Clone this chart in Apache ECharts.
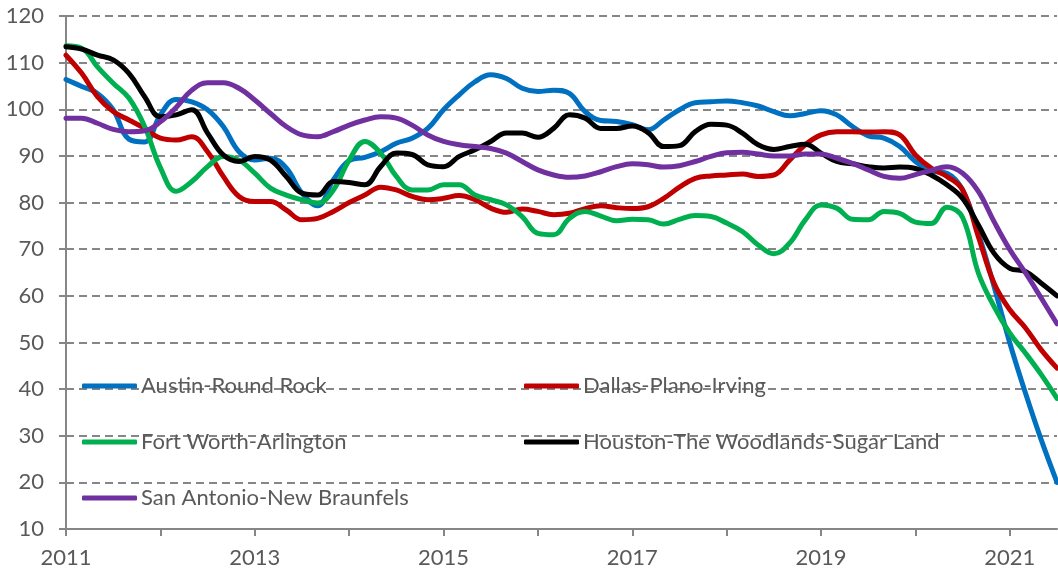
<!DOCTYPE html>
<html>
<head>
<meta charset="utf-8">
<script src="https://cdn.jsdelivr.net/npm/echarts@6/dist/echarts.min.js"></script>
<style>
  html, body { margin: 0; padding: 0; background: #fff; }
  #chart { width: 1058px; height: 571px; }
</style>
</head>
<body>
<div id="chart"></div>
<script>
// bimonthly observations, Jan 2011 .. Jul 2021
const months = [
  "2011-01", "2011-03", "2011-05", "2011-07", "2011-09", "2011-11",
  "2012-01", "2012-03", "2012-05", "2012-07", "2012-09", "2012-11",
  "2013-01", "2013-03", "2013-05", "2013-07", "2013-09", "2013-11",
  "2014-01", "2014-03", "2014-05", "2014-07", "2014-09", "2014-11",
  "2015-01", "2015-03", "2015-05", "2015-07", "2015-09", "2015-11",
  "2016-01", "2016-03", "2016-05", "2016-07", "2016-09", "2016-11",
  "2017-01", "2017-03", "2017-05", "2017-07", "2017-09", "2017-11",
  "2018-01", "2018-03", "2018-05", "2018-07", "2018-09", "2018-11",
  "2019-01", "2019-03", "2019-05", "2019-07", "2019-09", "2019-11",
  "2020-01", "2020-03", "2020-05", "2020-07", "2020-09", "2020-11",
  "2021-01", "2021-03", "2021-05", "2021-07"
];

const austin = [
  106.4, 104.9, 103.4, 99.9, 93.6, 93.0,
  98.8, 102.1, 101.6, 99.9, 96.3, 90.9,
  89.1, 89.5, 87.4, 82.0, 79.3, 84.9,
  89.0, 89.7, 90.9, 92.7, 93.8, 95.9,
  99.9, 103.1, 105.9, 107.4, 106.6, 104.5,
  103.8, 104.1, 103.4, 99.5, 97.6, 97.4,
  96.7, 95.6, 97.7, 99.9, 101.4, 101.6,
  101.8, 101.4, 100.7, 99.5, 98.6, 99.1,
  99.7, 98.8, 96.3, 94.3, 93.8, 92.0,
  88.8, 86.8, 86.3, 82.7, 73.4, 62.0,
  49.9, 39.1, 29.1, 20.0
];

const dallas = [
  111.6, 107.7, 102.7, 99.5, 97.7, 95.9,
  93.8, 93.4, 94.1, 90.9, 85.6, 81.3,
  80.2, 80.2, 78.4, 76.3, 76.6, 78.1,
  80.0, 81.6, 83.3, 82.7, 81.3, 80.6,
  80.9, 81.5, 80.6, 78.8, 77.9, 78.6,
  78.1, 77.4, 77.7, 78.7, 79.3, 78.9,
  78.7, 79.1, 80.9, 83.3, 85.2, 85.7,
  85.9, 86.1, 85.6, 85.9, 89.1, 92.4,
  94.5, 95.2, 95.2, 95.1, 95.2, 94.5,
  90.2, 87.4, 85.6, 82.7, 72.7, 62.7,
  57.0, 53.1, 48.4, 44.5
];

const fortWorth = [
  113.6, 113.1, 109.1, 105.6, 102.4, 96.3,
  87.5, 82.4, 84.5, 87.7, 89.9, 89.1,
  86.3, 83.1, 81.6, 80.6, 79.9, 82.7,
  89.1, 93.1, 90.6, 85.6, 82.7, 82.7,
  83.8, 83.8, 81.6, 80.6, 79.5, 77.0,
  73.4, 73.1, 76.6, 78.1, 77.1, 76.1,
  76.4, 76.3, 75.4, 76.4, 77.2, 77.0,
  75.6, 73.8, 70.9, 69.0, 71.3, 76.3,
  79.5, 78.8, 76.4, 76.3, 78.1, 77.7,
  75.8, 75.5, 79.0, 76.8, 64.9, 57.7,
  52.0, 47.7, 43.1, 38.0
];

const houston = [
  113.4, 112.9, 111.6, 110.6, 107.7, 102.7,
  98.4, 98.8, 99.9, 94.9, 90.2, 88.8,
  89.9, 89.1, 85.6, 82.0, 81.6, 84.5,
  84.3, 83.8, 87.7, 90.6, 90.3, 88.1,
  87.7, 89.9, 91.3, 93.1, 94.9, 94.9,
  94.0, 95.9, 98.8, 98.1, 95.9, 95.9,
  96.4, 95.0, 92.0, 92.2, 95.2, 96.8,
  96.6, 94.9, 92.4, 91.4, 92.0, 92.5,
  90.6, 88.8, 88.3, 87.7, 87.4, 87.6,
  87.3, 85.9, 83.8, 80.9, 75.2, 69.1,
  65.9, 65.2, 62.7, 60.0
];

const sanAntonio = [
  98.1, 98.1, 97.0, 95.7, 95.2, 95.4,
  97.3, 100.4, 104.1, 105.7, 105.7, 104.5,
  102.0, 99.1, 96.3, 94.5, 94.1, 95.2,
  96.6, 97.7, 98.4, 98.1, 96.6, 94.5,
  93.1, 92.4, 92.0, 91.6, 90.6, 88.8,
  87.0, 85.9, 85.4, 85.7, 86.6, 87.7,
  88.3, 88.1, 87.6, 87.9, 88.8, 89.9,
  90.7, 90.8, 90.4, 90.0, 90.0, 90.4,
  90.4, 89.5, 88.4, 87.0, 85.6, 85.2,
  86.0, 86.9, 87.7, 86.3, 82.4, 75.9,
  69.9, 64.9, 59.5, 54.0
];

const seriesNames = [
  "Austin-Round Rock",
  "Dallas-Plano-Irving",
  "Fort Worth-Arlington",
  "Houston-The Woodlands-Sugar Land",
  "San Antonio-New Braunfels"
];
const seriesColors = ["#0070C0", "#C00000", "#00B050", "#000000", "#7030A0"];
const seriesValues = [austin, dallas, fortWorth, houston, sanAntonio];

const FONT = "Lato";
const TEXT_COLOR = "#595959";
const AXIS_COLOR = "#868686";

const legendCommon = {
  orient: "vertical",
  top: 375,
  padding: 0,
  icon: "roundRect",
  itemWidth: 55,
  itemHeight: 5,
  itemGap: 34,
  textStyle: {
    fontFamily: FONT,
    fontSize: 22,
    color: TEXT_COLOR,
    lineHeight: 22,
    padding: [0, 0, 0, -1],
  },
};

const option = {
  animation: false,
  grid: {
    left: 66,
    right: 1,
    top: 16,
    bottom: 42,
  },
  legend: [
    {
      ...legendCommon,
      left: 82,
      data: [seriesNames[0], seriesNames[2], seriesNames[4]],
    },
    {
      ...legendCommon,
      left: 524,
      data: [seriesNames[1], seriesNames[3]],
    },
  ],
  xAxis: {
    type: "category",
    boundaryGap: false,
    data: months,
    axisLine: {
      lineStyle: { color: AXIS_COLOR, width: 2 },
    },
    axisTick: {
      interval: 5,
      length: 7,
      lineStyle: { color: AXIS_COLOR, width: 2 },
    },
    axisLabel: {
      interval: 11,
      margin: 18,
      color: TEXT_COLOR,
      fontFamily: FONT,
      fontSize: 22,
      formatter: (value) => value.slice(0, 4),
    },
    splitLine: { show: false },
  },
  yAxis: {
    type: "value",
    min: 10,
    max: 120,
    interval: 10,
    axisLine: {
      show: true,
      lineStyle: { color: AXIS_COLOR, width: 2 },
    },
    axisTick: {
      show: true,
      length: 7,
      lineStyle: { color: AXIS_COLOR, width: 2 },
    },
    axisLabel: {
      margin: 22,
      color: TEXT_COLOR,
      fontFamily: FONT,
      fontSize: 22,
    },
    splitLine: {
      lineStyle: {
        color: AXIS_COLOR,
        width: 2,
        type: [8, 5],
      },
    },
  },
  series: seriesNames.map((name, i) => ({
    name,
    type: "line",
    data: seriesValues[i],
    smooth: 0.4,
    symbol: "none",
    color: seriesColors[i],
    lineStyle: {
      color: seriesColors[i],
      width: 5,
      cap: "round",
      join: "round",
    },
  })),
};

const chart = echarts.init(document.getElementById("chart"), null, { renderer: "canvas" });
chart.setOption(option);
</script>
</body>
</html>
